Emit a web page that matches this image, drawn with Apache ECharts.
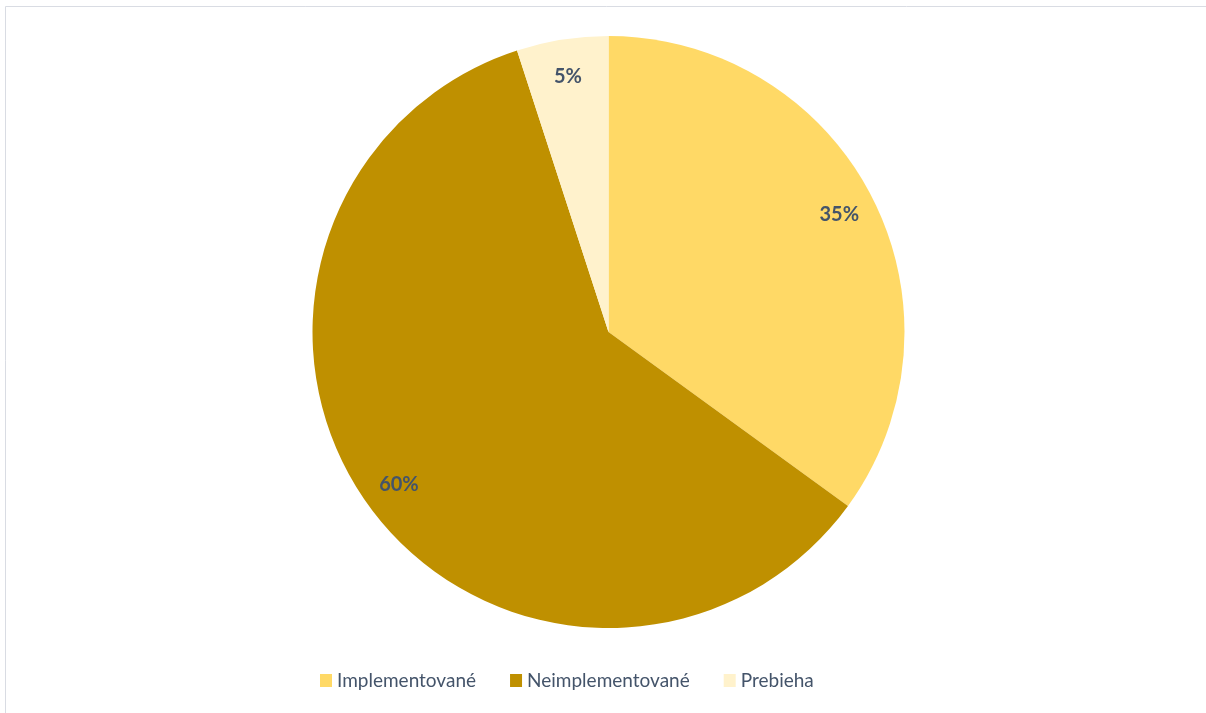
<!DOCTYPE html>
<html>
<head>
<meta charset="utf-8">
<script src="https://cdn.jsdelivr.net/npm/echarts@6/dist/echarts.min.js"></script>
<style>
html,body{margin:0;padding:0;background:#fff;}
#chart{width:1206px;height:713px;}
</style>
</head>
<body>
<div id="chart"></div>
<script>
const categories = ['Implementované', 'Neimplementované', 'Prebieha'];
const values = [35, 60, 5];
const colors = ['#FFD966', '#BF9000', '#FFF2CC'];

const data = categories.map((c, i) => ({ name: c, value: values[i], itemStyle: { color: colors[i] } }));
const labelData = categories.map((c, i) => ({ name: c, value: values[i] }));

const chart = echarts.init(document.getElementById('chart'));
chart.setOption({
  animation: false,
  backgroundColor: '#ffffff',
  graphic: [{
    type: 'rect',
    shape: { x: 5.5, y: 6.5, width: 1400, height: 800 },
    style: { fill: 'none', stroke: '#d9dce3', lineWidth: 1 },
    silent: true
  }],
  legend: {
    left: 315,
    top: 666,
    icon: 'rect',
    itemWidth: 12,
    itemHeight: 13,
    itemGap: 34,
    data: categories,
    textStyle: { fontFamily: 'Lato', fontSize: 19, color: '#44546A' }
  },
  series: [
    {
      type: 'pie',
      center: [608.5, 332],
      radius: [0, 296],
      startAngle: 90,
      clockwise: true,
      data: data,
      label: { show: false },
      labelLine: { show: false },
      itemStyle: { borderWidth: 0 },
      emphasis: { disabled: true }
    },
    {
      type: 'pie',
      center: [608.5, 332],
      radius: [216, 296],
      startAngle: 90,
      clockwise: true,
      silent: true,
      data: labelData,
      itemStyle: { color: 'rgba(0,0,0,0)', borderWidth: 0 },
      label: {
        show: true,
        position: 'inside',
        formatter: '{d}%',
        fontFamily: 'Lato',
        fontWeight: 'bold',
        fontSize: 20,
        color: '#44546A'
      },
      labelLine: { show: false },
      emphasis: { disabled: true }
    }
  ]
});
</script>
</body>
</html>
